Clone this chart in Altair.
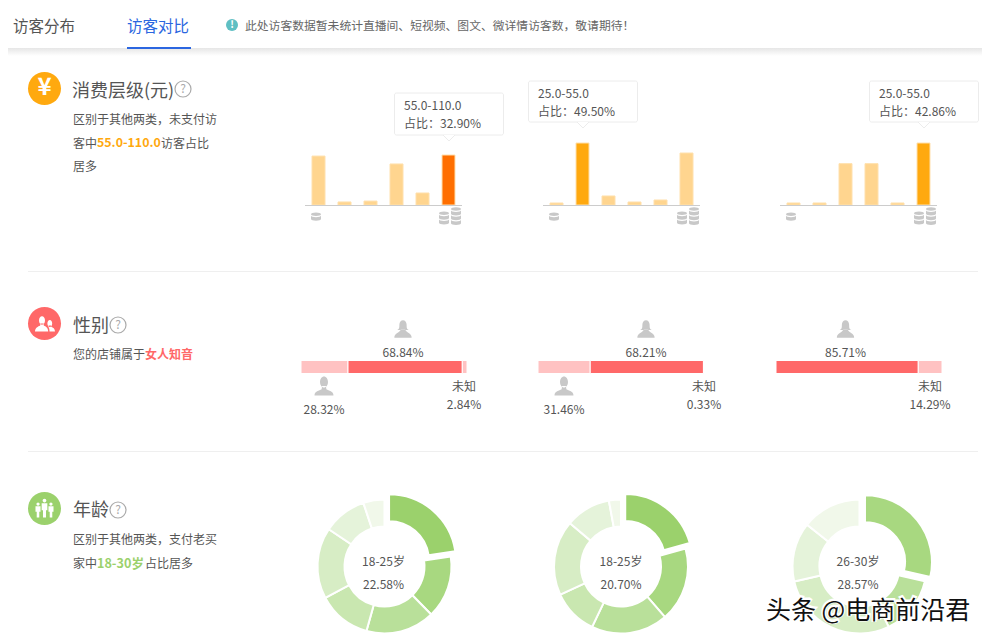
import math
import re
import altair as alt
import pandas as pd

OX = 8
FONT = "Noto Sans CJK SC"
TXT = "#555555"
ORANGE = "#ffa90f"
RED = "#ff6868"
GREEN = "#9bd16c"

# ---------- data ----------
SPEND_CATS = ["a", "b", "c", "d", "e", "f"]
SPEND_1 = [32.2, 2.0, 2.6, 27.0, 7.9, 32.9]
SPEND_2 = [1.6, 49.5, 7.2, 2.4, 4.0, 41.5]
SPEND_3 = [1.4, 1.4, 28.57, 28.57, 1.4, 42.86]
SPEND_TOP = [5, 1, 5]
GENDER_CATS = ["男", "女", "未知"]
GENDER_1 = [28.32, 68.84, 2.84]
GENDER_2 = [31.46, 68.21, 0.33]
GENDER_3 = [0.0, 85.71, 14.29]
AGE_CATS = ["18-25岁", "26-30岁", "31-35岁", "36-40岁", "41-50岁", "51-60岁", "60岁以上"]
AGE_1 = [22.58, 15.1, 16.6, 12.9, 17.1, 10.5, 5.1]
AGE_2 = [20.70, 17.9, 18.5, 11.0, 18.1, 10.9, 2.9]
AGE_3 = [0.0, 28.57, 14.29, 0.0, 28.57, 14.29, 14.29]
GREENS = ["#9bd16c", "#a8d880", "#b9e09a", "#c9e7b0", "#d7edc5", "#e5f3da", "#f1f8ea"]

layers = []


def one(v=""):
    return pd.DataFrame({"t": [v]})


def T(x, y, s, size=12, color=TXT, weight="normal", align="left"):
    # CJK glyphs sit a little high in the middle baseline of this font
    dy = (1.5 if size >= 15 and size < 20 else 1) if re.search(r"[\u4e00-\u9fff]", s) else 0
    layers.append(
        alt.Chart(one(s))
        .mark_text(font=FONT, fontSize=size, color=color, fontWeight=weight, align=align, baseline="middle")
        .encode(x=alt.value(x - OX), y=alt.value(y + dy - OX), text="t:N")
    )


def rect(x0, x1, y0, y1, **kw):
    layers.append(
        alt.Chart(one())
        .mark_rect(**kw)
        .encode(x=alt.value(x0 - OX), x2=alt.value(x1 - OX), y=alt.value(y0 - OX), y2=alt.value(y1 - OX))
    )


def rule(x0, x1, y, color):
    layers.append(
        alt.Chart(one())
        .mark_rule(color=color, strokeWidth=1)
        .encode(x=alt.value(x0 - OX), x2=alt.value(x1 - OX), y=alt.value(y - OX))
    )


def sym(x, y, shape, size, color=None, **kw):
    args = dict(shape=shape, size=size, filled=True, opacity=1, strokeWidth=0)
    if color:
        args["fill"] = color
    args.update(kw)
    layers.append(alt.Chart(one()).mark_point(**args).encode(x=alt.value(x - OX), y=alt.value(y - OX)))


def ell(cx, cy, rx, ry):
    return f"M{cx-rx},{cy} a{rx},{ry} 0 1 0 {2*rx},0 a{rx},{ry} 0 1 0 {-2*rx},0 Z "


def coins(n):
    ry, s, gap = 0.35, 0.95, 0.25
    total = 2 * ry + (n - 1) * s
    top = -total / 2 + ry
    p = ell(0, top, 1, ry)
    for i in range(1, n):
        y = top + (i - 1) * s + gap
        b = y + s - gap
        p += f"M-1,{y:.3f} L-1,{b:.3f} A1,{ry} 0 0 0 1,{b:.3f} L1,{y:.3f} A1,{ry} 0 0 1 -1,{y:.3f} Z "
    return p


MALE = ell(0, -0.42, 0.42, 0.58) + "M-0.2,0 L0.2,0 L0.25,0.35 C0.5,0.5 1,0.55 1,1 L-1,1 C-1,0.55 -0.5,0.5 -0.25,0.35 Z"
FEMALE = (
    ell(0, -0.5, 0.42, 0.5)
    + "M-0.42,-0.5 C-0.42,-0.1 -0.45,0 -0.68,0.12 L0.68,0.12 C0.45,0 0.42,-0.1 0.42,-0.5 Z "
    + "M-0.25,0.1 L0.25,0.1 C0.45,0.45 1,0.5 1,1 L-1,1 C-1,0.5 -0.45,0.45 -0.25,0.1 Z"
)
USERS = (
    ell(-0.3, -0.5, 0.3, 0.42)
    + "M-0.45,-0.2 L-0.15,-0.2 L-0.12,0 C0.1,0.1 0.32,0.25 0.32,0.6 L-1,0.6 C-1,0.25 -0.7,0.1 -0.48,0 Z "
    + ell(0.48, -0.2, 0.24, 0.34)
    + "M0.38,0 L0.6,0 L0.62,0.12 C0.8,0.2 1,0.3 1,0.6 L0.45,0.6 C0.45,0.35 0.4,0.2 0.3,0.1 Z"
)
FAMILY = (
    ell(0, -0.78, 0.2, 0.2)
    + "M-0.3,-0.5 L0.3,-0.5 L0.3,0.25 L0.16,0.25 L0.16,1 L-0.16,1 L-0.16,0.25 L-0.3,0.25 Z "
    + ell(-0.68, -0.42, 0.17, 0.17)
    + "M-0.95,-0.18 L-0.42,-0.18 L-0.42,0.4 L-0.55,0.4 L-0.55,1 L-0.82,1 L-0.82,0.4 L-0.95,0.4 Z "
    + ell(0.68, -0.42, 0.17, 0.17)
    + "M0.42,-0.18 L0.95,-0.18 L0.95,0.4 L0.82,0.4 L0.82,1 L0.55,1 L0.55,0.4 L0.42,0.4 Z"
)
POINTER = "M-1,-0.5 L0,0.5 L1,-0.5"


def help_icon(x, y):
    layers.append(
        alt.Chart(one())
        .mark_point(shape="circle", size=256, filled=False, stroke="#aaaaaa", strokeWidth=1.2, opacity=1)
        .encode(x=alt.value(x - OX), y=alt.value(y - OX))
    )
    T(x, y, "?", size=12, color="#aaaaaa", align="center")


# ---------- header ----------
rect(8, 982, 48, 56, fill=alt.LinearGradient(gradient="linear", stops=[alt.GradientStop(color="#e6e6e6", offset=0), alt.GradientStop(color="#ffffff", offset=1)], x1=0, x2=0, y1=0, y2=1))
T(13, 25, "访客分布", size=15.5, color="#555555")
T(127, 25, "访客对比", size=15.5, color="#2b66e0")
rect(127, 191, 47, 49, fill="#2b66e0")
sym(232, 25, "circle", 144, "#5fbfc3")
T(232, 25, "!", size=10, color="#ffffff", weight="bold", align="center")
T(245, 25, "此处访客数据暂未统计直播间、短视频、图文、微详情访客数，敬请期待！", size=11.8, color="#666666")

# ---------- section 1 ----------
sym(44.5, 88.5, "circle", 1089, ORANGE)
T(44.5, 88, "¥", size=24, color="#ffffff", weight="bold", align="center")
T(72, 90, "消费层级(元)", size=18)
help_icon(183, 89)
T(73, 119, "区别于其他两类，未支付访", size=12)
T(73, 143, "客中", size=12)
T(97, 143, "55.0-110.0", size=12.4, color=ORANGE, weight="bold")
T(161, 143, "访客占比", size=12)
T(73, 166, "居多", size=12)

SPENDS = [
    (SPEND_1, 305.5, 205, 155, "#ff6f00", 305, 461),
    (SPEND_2, 543.5, 205, 143, ORANGE, 543, 699),
    (SPEND_3, 780.5, 205, 143, ORANGE, 780, 936),
]
for (vals, x0, yb, yt, hi, r0, r1), top in zip(SPENDS, SPEND_TOP):
    df = pd.DataFrame({"c": SPEND_CATS, "v": vals, "h": ["hi" if i == top else "lo" for i in range(6)]})
    layers.append(
        alt.Chart(df)
        .mark_bar(stroke="#ffe0ad", strokeWidth=1)
        .encode(
            x=alt.X("c:N", sort=None, axis=None, scale=alt.Scale(domain=SPEND_CATS, range=[x0 - OX, x0 + 156 - OX], paddingInner=0.5, paddingOuter=0.25)),
            y=alt.Y("v:Q", stack=None, axis=None, scale=alt.Scale(domain=[0, max(vals)], range=[yb - OX, yt - OX], nice=False)),
            color=alt.Color("h:N", legend=None, scale=alt.Scale(domain=["hi", "lo"], range=[hi, "#ffd58f"])),
        )
    )
    rule(r0, r1 + 1, 205.5, "#cccccc")
    sym(r0 + 11, 216.5, coins(2), 100, "#c8c8c8")
    sym(r0 + 139, 218, coins(3), 100, "#c8c8c8")
    sym(r0 + 151, 216, coins(4), 100, "#c8c8c8")

TIPS = [
    (394.5, 503.5, 93, 135, 449, "55.0-110.0", "占比：32.90%"),
    (528.5, 637.5, 81, 122, 583, "25.0-55.0", "占比：49.50%"),
    (869.5, 978.5, 81, 122, 924, "25.0-55.0", "占比：42.86%"),
]
for x0, x1, y0, y1, px, a, b in TIPS:
    rect(x0, x1, y0, y1, fill="#ffffff", stroke="#ececec", strokeWidth=1, cornerRadius=2)
    sym(px, y1 + 3, POINTER, 144, "#ffffff", stroke="#ececec", strokeWidth=1)
    T(x0 + 9.5, y0 + 12.5, a, size=12)
    T(x0 + 9.5, y0 + 30, b, size=12)

rule(28, 978, 271.5, "#efefef")

# ---------- section 2 ----------
sym(44.5, 323.5, "circle", 1089, RED)
sym(45, 325.5, USERS, 400, "#ffffff")
T(73, 325, "性别", size=18)
help_icon(118, 325)
T(73, 354, "您的店铺属于", size=12)
T(145, 354, "女人知音", size=12, color=RED, weight="bold")

for vals, x0 in [(GENDER_1, 301), (GENDER_2, 538), (GENDER_3, 776)]:
    ends = [sum(vals[: i + 1]) for i in range(3)]
    starts = [sum(vals[:i]) for i in range(3)]
    df = pd.DataFrame({"g": GENDER_CATS, "s": starts, "e": ends})
    df = df[df.e > df.s]
    layers.append(
        alt.Chart(df)
        .mark_rect(stroke="#ffffff", strokeWidth=1)
        .encode(
            x=alt.X("s:Q", axis=None, scale=alt.Scale(domain=[0, 100], range=[x0 - OX, x0 + 166 - OX], nice=False)),
            x2="e:Q",
            y=alt.value(360.5 - OX),
            y2=alt.value(373.5 - OX),
            color=alt.Color("g:N", legend=None, scale=alt.Scale(domain=GENDER_CATS, range=["#ffc2c2", RED, "#ffc2c2"])),
        )
    )

for x, v in [(403, GENDER_1[1]), (646, GENDER_2[1]), (845.5, GENDER_3[1])]:
    sym(x, 329, FEMALE, 300, "#c8c8c8")
    T(x, 352.5, f"{v:.2f}%", size=12, align="center")
for x, v in [(324, GENDER_1[0]), (564, GENDER_2[0])]:
    sym(x, 386, MALE, 361, "#c8c8c8")
    T(x, 410, f"{v:.2f}%", size=12, align="center")
for x, v in [(464, GENDER_1[2]), (704, GENDER_2[2]), (930, GENDER_3[2])]:
    T(x, 386, "未知", size=12, align="center")
    T(x, 405, f"{v:.2f}%", size=12, align="center")

rule(28, 978, 451.5, "#efefef")

# ---------- section 3 ----------
sym(44.5, 508.5, "circle", 1089, GREEN)
sym(44.5, 508, FAMILY, 360, "#ffffff")
T(73, 509, "年龄", size=18)
help_icon(118, 510)
T(73, 539, "区别于其他两类，支付老买", size=12)
T(73, 563, "家中", size=12)
T(97, 563, "18-30岁", size=12.6, color=GREEN, weight="bold")
T(145, 563, "占比居多", size=12)

for vals, cx, hi, lx in [(AGE_1, 384.5, 0, 383.5), (AGE_2, 621, 0, 621), (AGE_3, 859.5, 1, 858)]:
    cy = 566.5
    total = sum(vals)
    ends = [sum(vals[: i + 1]) for i in range(7)]
    starts = [sum(vals[:i]) for i in range(7)]
    df = pd.DataFrame({"a": AGE_CATS, "s": starts, "e": ends})
    df = df[df.e > df.s]
    ang = (starts[hi] + ends[hi]) / 2 / total * 2 * math.pi
    dx, dy = 7 * math.sin(ang), -7 * math.cos(ang)
    color = alt.Color("a:N", legend=None, scale=alt.Scale(domain=AGE_CATS, range=GREENS))
    theta = alt.Theta("s:Q", stack=None, scale=alt.Scale(domain=[0, total], range=[0, 2 * math.pi], nice=False))
    layers.append(
        alt.Chart(df[df.a != AGE_CATS[hi]])
        .mark_arc(radius=67, radius2=40, stroke="#ffffff", strokeWidth=2)
        .encode(theta=theta, theta2="e:Q", x=alt.value(cx - OX), y=alt.value(cy - OX), color=color)
    )
    layers.append(
        alt.Chart(df[df.a == AGE_CATS[hi]])
        .mark_arc(radius=67, radius2=40, stroke="#ffffff", strokeWidth=2)
        .encode(theta=theta, theta2="e:Q", x=alt.value(cx + dx - OX), y=alt.value(cy + dy - OX), color=color)
    )
    T(lx, 561, AGE_CATS[hi], size=12, align="center")
    T(lx, 585, f"{vals[hi]:.2f}%", size=12, align="center")

# ---------- watermark ----------
layers.append(
    alt.Chart(one("头条 @电商前沿君"))
    .mark_text(font=FONT, fontSize=25, color="#ffffff", stroke="#ffffff", strokeWidth=3, align="left", baseline="middle")
    .encode(x=alt.value(766 - OX), y=alt.value(610 - OX), text="t:N")
)
T(766, 610, "头条 @电商前沿君", size=25, color="#111111")

chart = (
    alt.layer(*layers)
    .resolve_scale(x="independent", y="independent", color="independent", theta="independent")
    .properties(width=974, height=626, padding=0, autosize=alt.AutoSizeParams(type="none"))
    .configure_view(stroke=None)
)
chart.save("out.html", embed_options={"renderer": "svg", "actions": False})
